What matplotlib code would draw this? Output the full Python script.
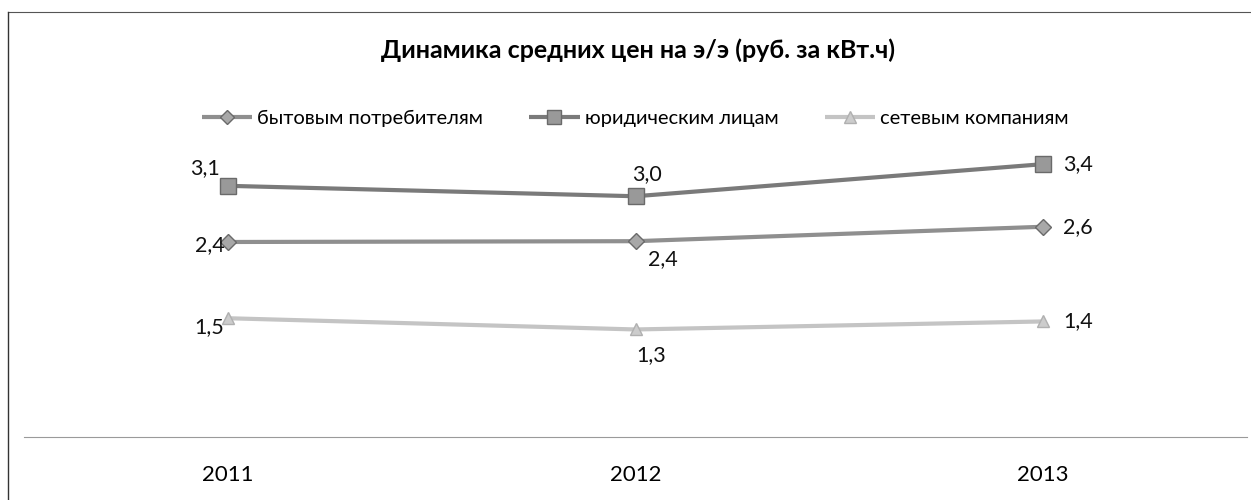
import matplotlib
matplotlib.use("Agg")
import matplotlib.pyplot as plt
from matplotlib.lines import Line2D

years = ["2011", "2012", "2013"]
series_names = ["бытовым потребителям", "юридическим лицам", "сетевым компаниям"]
household = [2.43, 2.44, 2.62]
legal = [3.13, 3.00, 3.40]
grid = [1.48, 1.34, 1.44]
title = "Динамика средних цен на э/э (руб. за кВт.ч)"

plt.rcParams['font.family'] = ['Lato', 'DejaVu Sans']

fig = plt.figure(figsize=(12.51, 5.0), dpi=100)
ax = fig.add_axes([24/1251, 63/500, 1223/1251, 321/500])

x = list(range(len(years)))
styles = [
    dict(color="#8f8f8f", marker="D", ms=8, mec="#6a6a6a", mfc="#a8a8a8"),
    dict(color="#7a7a7a", marker="s", ms=11, mec="#6a6a6a", mfc="#999999"),
    dict(color="#c4c4c4", marker="^", ms=9, mec="#b0b0b0", mfc="#cccccc"),
]
data = [household, legal, grid]
lines = []
for vals, name, st in zip(data, series_names, styles):
    ln, = ax.plot(x, vals, lw=3.0, label=name, solid_capstyle="butt", **st)
    lines.append(ln)

offsets = [
    [(-18, -3), (27, -18), (35, 0)],
    [(-23, 18), (11, 22), (35, 0)],
    [(-19, -9), (16, -26), (35, 0)],
]
for vals, offs in zip(data, offsets):
    for xi, v, off in zip(x, vals, offs):
        ax.annotate(f"{v:.1f}".replace(".", ","), (xi, v), xytext=off,
                    textcoords="offset pixels", ha="center", va="center",
                    fontsize=15.5, color="#111111")

ax.set_xlim(-0.5, 2.5)
ax.set_ylim(0, 4.0)
ax.set_yticks([])
ax.set_xticks(x)
ax.set_xticklabels(years, fontsize=16)
ax.tick_params(axis="x", length=0, pad=20)
for s in ["top", "right", "left"]:
    ax.spines[s].set_visible(False)
ax.spines["bottom"].set_color("#9a9a9a")
ax.spines["bottom"].set_linewidth(0.8)

fig.text(638/1251, 1 - 50/500, title, ha="center", va="center", fontsize=18, fontweight="bold")
fig.legend(handles=lines, loc="center", bbox_to_anchor=(635/1251, 1 - 118/500), ncol=3,
           frameon=False, fontsize=14.5, handlelength=2.5, columnspacing=2.3,
           handletextpad=0.25, markerscale=0.9)

# outer frame (partial border)
fig.add_artist(Line2D([8/1251, 1.0], [1 - 12/500, 1 - 12/500], transform=fig.transFigure,
                      color="#555555", lw=0.8))
fig.add_artist(Line2D([8/1251, 8/1251], [0, 1 - 12/500], transform=fig.transFigure,
                      color="#333333", lw=1.0))

fig.savefig("out.png", dpi=100)
